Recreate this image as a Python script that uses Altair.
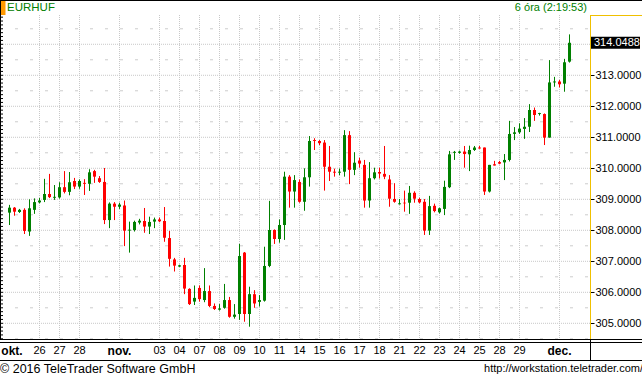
import altair as alt
import pandas as pd

# ---------------- data (6-hour candles, EUR/HUF) ----------------
opens = [308.57, 308.73, 308.59, 308.66, 307.96, 308.66, 308.90, 308.98, 309.17, 309.05,
         309.06, 309.39, 309.24, 309.59, 309.41, 309.53, 309.50, 309.91, 309.68, 309.56,
         308.33, 308.86, 308.76, 308.80, 307.99, 308.01, 308.25, 308.30, 308.12, 308.28,
         308.35, 308.30, 307.75, 307.06, 306.83, 306.88, 306.11, 305.70, 306.14, 305.75,
         306.04, 305.56, 305.44, 305.50, 305.75, 305.21, 305.30, 307.28, 305.30, 305.94,
         305.69, 305.73, 306.85, 308.01, 307.72, 308.17, 309.73, 309.25, 309.56, 308.92,
         309.71, 310.91, 310.88, 310.83, 310.05, 309.89, 309.86, 309.89, 311.07, 309.95,
         310.25, 310.11, 308.96, 309.68, 309.88, 309.82, 309.64, 309.01, 308.84, 308.89,
         308.89, 309.21, 309.01, 308.92, 307.99, 308.79, 308.58, 308.69, 309.39, 310.50,
         310.50, 310.54, 310.45, 310.59, 310.67, 310.67, 309.25, 310.13, 310.20, 310.19,
         310.27, 311.11, 311.16, 311.27, 311.34, 311.88, 311.75, 311.75, 310.99, 312.77,
         312.80, 312.73, 313.44]
highs = [308.82, 308.75, 308.69, 308.71, 309.00, 309.03, 309.04, 309.66, 309.82, 309.46,
         309.55, 309.91, 309.88, 309.69, 309.64, 309.65, 309.97, 309.95, 309.75, 310.01,
         308.90, 308.91, 308.89, 308.96, 308.28, 308.31, 308.37, 308.72, 308.44, 308.41,
         308.41, 308.75, 307.98, 307.11, 306.89, 307.11, 306.13, 306.22, 306.22, 306.78,
         306.22, 305.64, 305.62, 306.27, 305.85, 305.62, 307.56, 307.30, 306.18, 306.07,
         305.91, 307.47, 308.95, 308.03, 308.35, 309.89, 309.78, 309.78, 309.64, 310.00,
         311.04, 310.97, 310.91, 310.91, 310.72, 309.99, 309.99, 311.23, 311.20, 310.52,
         310.34, 310.27, 310.20, 310.02, 310.02, 310.72, 309.78, 309.52, 309.01, 309.28,
         309.43, 309.26, 309.05, 309.01, 309.11, 308.86, 308.73, 309.60, 310.56, 310.56,
         310.57, 310.72, 310.73, 310.72, 310.72, 310.67, 310.11, 310.24, 310.24, 310.46,
         311.53, 311.33, 311.45, 311.62, 312.07, 311.96, 311.79, 311.77, 313.49, 312.95,
         312.85, 313.53, 314.32]
lows = [308.17, 308.47, 308.56, 307.88, 307.82, 308.53, 308.87, 308.91, 309.04, 308.98,
        309.02, 309.19, 309.13, 309.33, 309.34, 309.14, 309.27, 309.53, 309.53, 308.20,
        308.07, 308.33, 308.69, 307.49, 307.28, 307.96, 308.19, 307.92, 307.88, 308.07,
        308.26, 307.63, 306.83, 306.67, 306.82, 305.94, 305.59, 305.59, 305.70, 305.68,
        305.52, 305.43, 305.41, 305.47, 305.18, 305.15, 305.11, 305.05, 304.89, 305.50,
        305.54, 305.70, 306.81, 307.56, 307.60, 307.69, 308.73, 308.73, 308.89, 308.63,
        309.41, 310.59, 310.75, 309.28, 309.59, 309.73, 309.78, 309.73, 309.49, 309.78,
        310.02, 308.73, 308.73, 309.64, 309.67, 309.65, 308.76, 308.89, 308.83, 308.60,
        308.53, 308.89, 308.87, 307.85, 307.85, 308.58, 308.54, 308.49, 309.36, 310.27,
        310.47, 310.02, 309.91, 310.56, 310.63, 309.14, 309.22, 310.09, 310.13, 309.62,
        310.22, 310.91, 311.11, 310.95, 311.17, 311.53, 311.70, 310.75, 310.99, 312.63,
        312.61, 312.47, 313.41]
closes = [308.73, 308.60, 308.66, 307.98, 308.71, 308.91, 308.96, 309.17, 309.07, 309.08,
          309.39, 309.24, 309.55, 309.41, 309.59, 309.50, 309.87, 309.73, 309.56, 308.33,
          308.86, 308.76, 308.83, 307.99, 308.02, 308.27, 308.31, 308.12, 308.27, 308.35,
          308.29, 307.76, 307.08, 306.86, 306.87, 306.12, 305.62, 305.82, 305.78, 306.04,
          305.56, 305.46, 305.48, 305.75, 305.21, 305.28, 307.17, 305.30, 305.94, 305.64,
          305.75, 306.85, 308.01, 307.72, 308.17, 309.73, 309.25, 309.62, 308.92, 309.71,
          310.88, 310.88, 310.81, 310.05, 309.89, 309.86, 309.89, 311.07, 309.95, 310.18,
          310.15, 308.96, 309.68, 309.87, 309.83, 309.73, 309.02, 308.92, 308.87, 308.87,
          309.21, 309.02, 308.90, 307.99, 308.78, 308.62, 308.71, 309.40, 310.45, 310.53,
          310.54, 310.46, 310.59, 310.67, 310.64, 309.25, 310.11, 310.09, 310.15, 310.27,
          311.11, 311.16, 311.28, 311.34, 311.88, 311.72, 311.78, 310.99, 312.77, 312.80,
          312.71, 313.42, 314.0488]

day_labels = ["26", "27", "28", "03", "04", "07", "08", "09", "10", "11", "14", "15",
              "16", "17", "18", "21", "22", "23", "24", "25", "28", "29"]
day_slots = [6, 10, 14, 30, 34, 38, 42, 46, 50, 54, 58, 62, 66, 70, 74, 78, 82, 86,
             90, 94, 98, 102]
month_labels = ["okt.", "nov.", "dec."]
month_slots = [-2, 22, 110]

price_labels = [305, 306, 307, 308, 309, 310, 311, 312, 313]
major_grid = [305, 306, 307, 308, 309, 310, 311, 312, 313, 314]
minor_grid = [304.5, 305.5, 306.5, 307.5, 308.5, 309.5, 310.5, 311.5, 312.5, 313.5, 314.5]

symbol = "EURHUF"
period_text = "6 óra (2:19:53)"
copyright_text = "© 2016 TeleTrader Software GmbH"
url_text = "http://workstation.teletrader.com/"
last_price = closes[-1]

# ---------------- layout ----------------
W, H = 587, 324
SANS = "Liberation Sans, Arial, sans-serif"
GREEN = "#008000"
RED = "#ff0000"

df = pd.DataFrame({"k": list(range(len(opens))), "o": opens, "h": highs, "l": lows, "c": closes})
days = pd.DataFrame({"k": day_slots, "t": day_labels})
months = pd.DataFrame({"k": month_slots, "t": month_labels})
all_ticks = pd.DataFrame({"k": day_slots + month_slots[1:]})

xs = alt.Scale(domain=[-1.3, 116.1], nice=False, zero=False, padding=0)
ys = alt.Scale(domain=[304.4935, 314.945], nice=False, zero=False, padding=0)

color = alt.condition("datum.c >= datum.o", alt.value(GREEN), alt.value(RED))

hgrid = alt.Chart(pd.DataFrame({"v": major_grid})).mark_rule(
    color="#c8c8c8", strokeDash=[1, 1], strokeWidth=1
).encode(
    y=alt.Y("v:Q", scale=ys, axis=alt.Axis(
        orient="right", values=price_labels, format=".4f", domain=False,
        ticks=True, tickSize=4, tickColor="black", labelPadding=1,
        labelFont=SANS, labelFontSize=11, labelColor="black", grid=False,
        title=None, labelBaseline="middle")),
    x=alt.value(0), x2=alt.value(W),
)

mgrid = alt.Chart(pd.DataFrame({"v": minor_grid})).mark_rule(
    color="#cccccc", strokeDash=[3, 12], strokeDashOffset=3, strokeWidth=1
).encode(y=alt.Y("v:Q", scale=ys, axis=None), x=alt.value(0), x2=alt.value(W))

vgrid = alt.Chart(all_ticks).mark_rule(
    color="#c8c8c8", strokeDash=[1, 1], strokeWidth=1
).encode(x=alt.X("k:Q", scale=xs, axis=None), y=alt.value(0), y2=alt.value(H))

base = alt.Chart(df)
wick = base.mark_rule(strokeWidth=1).encode(
    x=alt.X("k:Q", scale=xs, axis=None),
    y=alt.Y("l:Q", scale=ys, axis=None), y2="h:Q", color=color)
body = base.mark_bar(size=3).encode(
    x=alt.X("k:Q", scale=xs, axis=None),
    y=alt.Y("o:Q", scale=ys, axis=None), y2="c:Q", color=color)

# left tick strip
left_ticks = alt.Chart(pd.DataFrame({"v": [304.5 + 0.125 * i for i in range(84)]})).mark_rule(
    color="black", strokeWidth=1
).encode(y=alt.Y("v:Q", scale=ys, axis=None), x=alt.value(-3), x2=alt.value(0))

day_text = alt.Chart(days).mark_text(
    font=SANS, fontSize=11, color="black", baseline="middle", align="center"
).encode(x=alt.X("k:Q", scale=xs, axis=None), y=alt.value(H + 12), text="t:N")

month_text = alt.Chart(months).transform_calculate(
    kx="max(datum.k, 0.5)"
).mark_text(
    font=SANS, fontSize=12, fontWeight="bold", color="black", baseline="middle", align="center"
).encode(x=alt.X("kx:Q", scale=xs, axis=None), y=alt.value(H + 12), text="t:N")

# current price marker
last_df = pd.DataFrame({"p": [last_price], "t": [f"{last_price:.4f}"]})
last_box = alt.Chart(last_df).mark_rule(color="black", strokeWidth=12).encode(
    y=alt.Y("p:Q", scale=ys, axis=None), x=alt.value(W + 1), x2=alt.value(W + 50))
last_txt = alt.Chart(last_df).mark_text(
    font=SANS, fontSize=11, color="white", align="left", baseline="middle"
).encode(y=alt.Y("p:Q", scale=ys, axis=None), x=alt.value(W + 4), text="t:N")

def txt(s, x, y, align="left", color="black", font=SANS, size=11):
    return alt.Chart(pd.DataFrame({"t": [s]})).mark_text(
        font=font, fontSize=size, color=color, align=align, baseline="middle"
    ).encode(x=alt.value(x), y=alt.value(y), text="t:N")

def line(x, x2, y, y2, color="black", w=1):
    return alt.Chart(pd.DataFrame({"a": [0]})).mark_rule(color=color, strokeWidth=w).encode(
        x=alt.value(x), x2=alt.value(x2), y=alt.value(y), y2=alt.value(y2))

orange = alt.Chart(pd.DataFrame({"a": [0]})).mark_rect(color="#ff9900").encode(
    x=alt.value(-2), x2=alt.value(2.5), y=alt.value(-14), y2=alt.value(0))

decor = [
    line(-3, W + 55, -14.5, -14.5),            # top border
    line(W + 54.5, W + 54.5, -15, H + 21),      # right border
    line(-2.5, -2.5, -15, H + 1, w=1),          # left border
    line(W + 0.5, W + 0.5, 0, H, color="#f0c000", w=1),   # yellow left of price axis
    line(W, W + 53, 0.5, 0.5, color="#f0c000"),           # yellow top
    line(W + 53.5, W + 53.5, 0, H + 1, color="#0000c0", w=1),  # blue right
    line(W, W + 54, H + 0.5, H + 0.5, color="#0000c0"),        # blue bottom
    line(-3, W + 55, H + 0.5, H + 0.5),
    line(-3, W + 55, H + 3.5, H + 3.5),
    line(-3, W + 55, H + 21.5, H + 21.5),
    line(W + 0.5, W + 0.5, H, H + 21),
]

texts = [
    txt(symbol, 4, -7, color=GREEN, size=11.5),
    txt(period_text, W - 3, -7, align="right", color=GREEN, size=11),
    txt(copyright_text, -3, H + 30, size=12.5),
    txt(url_text, W + 53, H + 30, align="right", size=11),
]

chart = alt.layer(
    mgrid, vgrid, hgrid, left_ticks, wick, body, last_box, last_txt,
    day_text, month_text, orange, *decor, *texts
).resolve_axis(y="independent").properties(
    width=W, height=H,
    padding={"left": 3, "top": 15, "right": 52, "bottom": 39},
    autosize=alt.AutoSizeParams(type="none"),
    background="white",
).configure_view(strokeWidth=0)

chart.save("out.html", embed_options={"renderer": "svg", "actions": False})
